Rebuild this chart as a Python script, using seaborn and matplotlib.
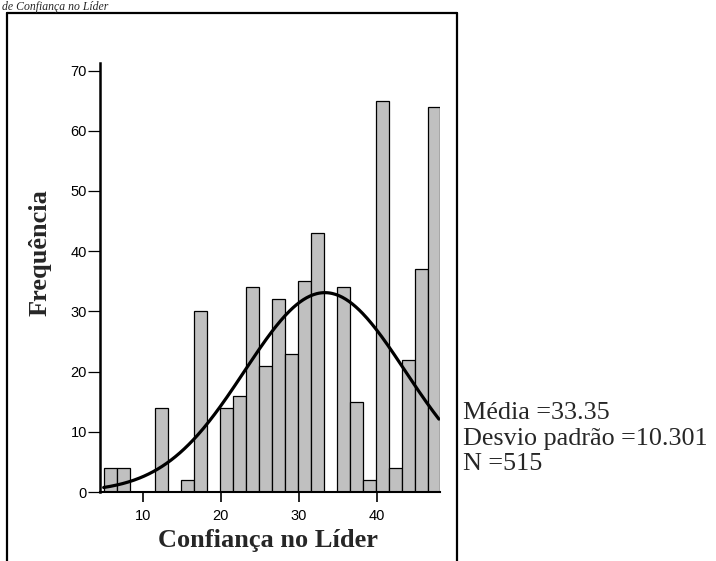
import numpy as np
import pandas as pd
import matplotlib
matplotlib.use("Agg")
import matplotlib.pyplot as plt
from matplotlib.lines import Line2D
import seaborn as sns

# Histogram of "Confiança no Líder" (bin counts) with fitted normal curve
bin_start = 5.0
bin_width = 1.66
counts = [4, 4, 0, 0, 14, 0, 2, 30, 0, 14, 16, 34, 21, 32, 23, 35, 43,
          0, 34, 15, 2, 65, 4, 22, 37, 64]
mean_value = 33.35
std_value = 10.301
n_value = 515
y_ticks = [0, 10, 20, 30, 40, 50, 60, 70]
x_ticks = [10, 20, 30, 40]

edges = bin_start + bin_width * np.arange(len(counts) + 1)
centers = (edges[:-1] + edges[1:]) / 2
df = pd.DataFrame({"valor": centers, "freq": counts})

sns.set_theme(style="ticks")
plt.rcParams["font.family"] = ["Liberation Sans", "DejaVu Sans"]

W, H = 716, 561
fig = plt.figure(figsize=(W / 100, H / 100), dpi=100)
fig.patch.set_facecolor("white")

def fx(px):
    return px / W

def fy(py):
    return 1 - py / H

ax = fig.add_axes([fx(100), fy(492), fx(440) - fx(100), fy(62.7) - fy(492)])

sns.histplot(data=df, x="valor", weights="freq", bins=[float(e) for e in edges],
             ax=ax, color="#c0c0c0", alpha=1.0, edgecolor="black", linewidth=0.9)

# Normal curve scaled to counts
xs = np.linspace(bin_start, edges[-1] - 0.2, 300)
ys = n_value * bin_width / (std_value * np.sqrt(2 * np.pi)) * \
    np.exp(-0.5 * ((xs - mean_value) / std_value) ** 2)
sns.lineplot(x=xs, y=ys, ax=ax, color="black", linewidth=2.3)

ax.set_xlim(4.53, 48.1)
ax.set_ylim(0, 71.3)
ax.set_xticks(x_ticks)
ax.set_yticks(y_ticks)
ax.set_xticklabels([str(t) for t in x_ticks], fontsize=10.5)
ax.set_yticklabels([str(t) for t in y_ticks], fontsize=10.5)
ax.tick_params(axis="y", direction="out", length=9, width=0.9, pad=0.5, colors="black")
ax.tick_params(axis="x", direction="out", length=7, width=1.2, pad=5, colors="black")
for side in ["top", "right"]:
    ax.spines[side].set_visible(False)
ax.spines["left"].set_linewidth(1.8)
ax.spines["bottom"].set_linewidth(1.5)
ax.spines["left"].set_color("black")
ax.spines["bottom"].set_color("black")
ax.set_xlabel("")
ax.set_ylabel("")
ax.set_facecolor("white")

serif = ["Liberation Serif", "DejaVu Serif"]
fig.text(fx(268), fy(540), "Confiança no Líder", ha="center", va="center",
         fontsize=19, fontweight="bold", family=serif)
fig.text(fx(40), fy(253), "Frequência", ha="center", va="center", rotation=90,
         fontsize=19, fontweight="bold", family=serif)

stats = [f"Média ={mean_value:.2f}", f"Desvio padrão ={std_value:.3f}", f"N ={n_value}"]
for i, s in enumerate(stats):
    fig.text(fx(463), fy(413 + 25.5 * i), s, ha="left", va="center",
             fontsize=18.8, family=serif)

# Caption line above the frame
fig.text(fx(2), fy(1), "de Confiança no Líder", ha="left", va="top",
         fontsize=8.5, fontstyle="italic", family=serif)

# Frame around the chart
frame = dict(color="black", linewidth=1.6, transform=fig.transFigure)
fig.add_artist(Line2D([fx(7), fx(457)], [fy(13), fy(13)], **frame))
fig.add_artist(Line2D([fx(7), fx(7)], [fy(13), fy(H + 5)], **frame))
fig.add_artist(Line2D([fx(457), fx(457)], [fy(13), fy(H + 5)], **frame))

fig.savefig("out.png", dpi=100)
